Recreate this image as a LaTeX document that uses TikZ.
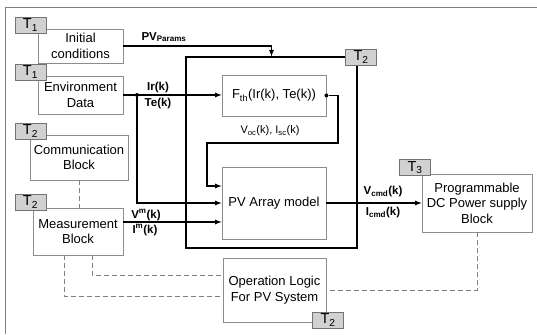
\documentclass[tikz,border=0pt]{standalone}
\usepackage{amsmath}
\usepackage{fontspec}
\setmainfont{Liberation Sans}
\usetikzlibrary{positioning}

\begin{document}
\begin{tikzpicture}[x=1pt, y=-1pt,
                    dot/.style={circle, fill=black, inner sep=0pt, minimum size=4pt}]
    \tikzstyle{block}=[rectangle, draw=black!45, line width=0.8pt, align=center, inner sep=0pt, font=\fontsize{13}{15.5}\selectfont]
    \tikzstyle{tag}=[rectangle, draw=black!55, fill=black!18, line width=0.8pt, minimum width=31pt, minimum height=16pt, inner sep=0pt, font=\fontsize{14.5}{14.5}\selectfont]
    \tikzstyle{connect}=[-latex, line width=1.2pt]
    \tikzstyle{link}=[dash pattern=on 5pt off 3pt, draw=black!50, line width=0.8pt]
    \tikzstyle{sig}=[inner sep=0pt, font=\fontsize{11.5}{12}\selectfont\bfseries]

      \useasboundingbox (0,0) rectangle (537,334);
      \draw[black!50, line width=0.8pt] (5,334) -- (5,7) -- (537,7);

      \node[block, minimum width=85pt, minimum height=34pt] (init) at (80.5,46) {Initial\\conditions};
      \node[block, minimum width=85pt, minimum height=38pt] (env) at (80.5,95) {Environment\\Data};
      \node[block, minimum width=98pt, minimum height=45pt] (comm) at (79,157.5) {Communication\\Block};
      \node[block, minimum width=90pt, minimum height=47pt] (meas) at (78,231.5) {Measurement\\Block};
      \node[draw=black, line width=1.2pt, minimum width=171pt, minimum height=191pt] (frame) at (271.5,152.5) {};
      \node[block, minimum width=104pt, minimum height=41pt] (fth) at (274,95.5) {F\textsubscript{th}(Ir(k), Te(k))};
      \node[block, minimum width=104pt, minimum height=72pt] (pv) at (274,203) {PV Array model};
      \node[block, minimum width=110pt, minimum height=58pt] (dc) at (477,203) {Programmable\\DC Power supply\\Block};
      \node[block, minimum width=103pt, minimum height=64pt] (op) at (274.5,290) {Operation Logic\\For PV System};

      % signals
      \node[dot] (split) at (137,95) {};
      \node[dot] (fout) at (fth.east) {};
      \coordinate (fb1) at (338,143);
      \coordinate (fb2) at (207,186);
      \draw[connect] (init.east) -| (frame.north);
      \draw[connect] (env.east) -- (env.east -| fth.west);
      \draw[connect] (split) |- (pv.west);
      \draw[connect] (fout) -| (fb1) -| (fb2) -- (fb2 -| pv.west);
      \draw[connect] ([yshift=9.5pt]meas.east) -- ([yshift=9.5pt]meas.east -| pv.west);
      \draw[connect] (pv.east) -- (dc.west);

      % dashed links
      \draw[link] (comm.south) -- (comm.south |- meas.north);
      \draw[link] ([xshift=14pt]meas.south) |- ([yshift=15pt]op.west);
      \draw[link] ([xshift=-14pt]meas.south) |- ([yshift=-6pt]op.west);
      \draw[link] (dc.south) |- (op.east);

      \node[sig] (params) at (164,37) {PV\textsubscript{Params}};
      \node[sig] (ir) at (158,88) {Ir(k)};
      \node[sig] (te) at (158,104) {Te(k)};
      \node[inner sep=0pt, font=\fontsize{11}{12}\selectfont] (vocisc) at (270,131) {V\textsubscript{oc}(k), I\textsubscript{sc}(k)};
      \node[sig] (vm) at (146,215) {V\textsuperscript{m}(k)};
      \node[sig] (im) at (145,230) {I\textsuperscript{m}(k)};
      \node[sig] (vcmd) at (383,192) {V\textsubscript{cmd}(k)};
      \node[sig] (icmd) at (383,213) {I\textsubscript{cmd}(k)};

      \node[tag] (tinit) at (30.5,25) {T\textsubscript{1}};
      \node[tag] (tenv) at (30.5,72) {T\textsubscript{1}};
      \node[tag] (tcomm) at (30.5,131) {T\textsubscript{2}};
      \node[tag] (tmeas) at (30.5,202) {T\textsubscript{2}};
      \node[tag] (tframe) at (361,57) {T\textsubscript{2}};
      \node[tag] (tdc) at (415,167.5) {T\textsubscript{3}};
      \node[tag] (top) at (328,320) {T\textsubscript{2}};
    \end{tikzpicture}
\end{document}
